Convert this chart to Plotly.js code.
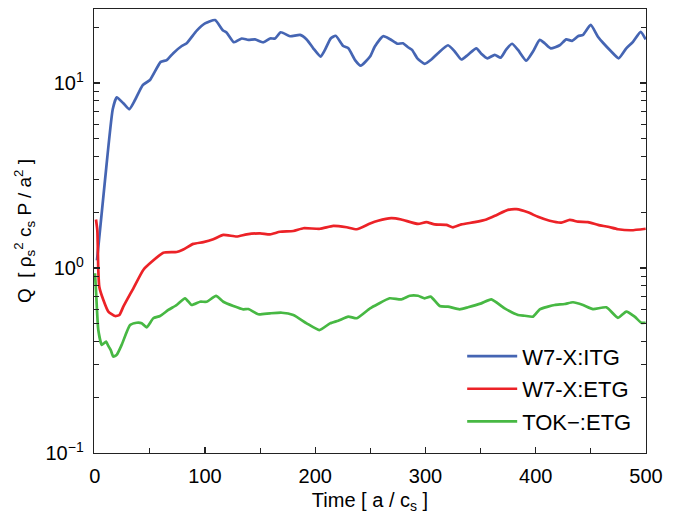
<!DOCTYPE html>
<html>
<head>
<meta charset="utf-8">
<script src="https://cdn.plot.ly/plotly-3.0.1.min.js"></script>
<style>html,body{margin:0;padding:0;background:#fff;}#chart{width:678px;height:514px;}</style>
</head>
<body>
<div id="chart"></div>
<script>
// W7-X:ITG
const itgTime = [2,9.3,16.3,19.9,25.9,31.3,36.5,43.5,50.1,59.8,65.3,71.2,78.9,83.4,92.5,100,109.1,116.1,119.7,126.3,133.3,139.3,145.4,152.9,159,163.5,168.7,177.1,186.2,192.2,198.2,204.9,208.8,214,218.5,225.4,230,236.1,241.2,249.7,253.9,261.5,267.5,274.4,279.6,284.1,287.8,292.6,299.3,305.3,311.3,320.4,326.5,332.5,338.5,346.1,350.6,356.1,362.8,368.2,373.3,378.5,383.9,391.4,397.5,403.6,408.1,413.6,421.7,427.7,432.9,438.3,442.9,449.8,456.4,461,468.5,475.2,482.1,488.2,495.2,499.7];
const itgQ = [1.10,2.99,7.21,8.37,7.77,7.21,8.09,9.75,10.38,13.0,13.3,14.5,15.85,16.4,19.2,21.0,21.9,19.3,18.7,16.6,17.4,17.1,17.2,16.6,17.4,17.4,18.8,17.9,18.2,17.2,15.4,13.9,15.1,17.4,18.0,15.85,15.4,13.3,12.4,13.9,15.7,17.9,17.3,16.3,16.4,15.6,15.1,13.6,12.7,13.4,14.5,16.0,14.8,13.4,14.2,15.4,14.4,13.6,14.2,13.7,15.2,16.3,15.1,13.2,14.8,17.1,16.4,15.4,16.0,17.2,16.9,17.9,18.2,20.6,17.8,16.5,14.8,13.6,15.4,16.7,18.9,17.2];

// W7-X:ETG
const etgTime = [1.1,2.3,3.2,4.1,7.8,12.3,18.4,22.3,25.9,35,44,51.6,62.2,74.3,80.3,89.4,98.5,107.5,116.6,128.7,137.8,149.9,159,168,180.1,189.2,204.3,216.4,228.5,237.6,249.7,256.9,269,278,293.2,300.7,308.3,318.9,324.9,332.5,344.6,355.2,364.2,374.8,382.4,392.9,402,412.6,423.2,430.8,438.3,447.4,456.5,465.5,474.6,486.7,499.7];
const etgQ = [1.83,1.60,0.976,0.792,0.671,0.581,0.550,0.557,0.618,0.777,0.976,1.08,1.21,1.22,1.26,1.35,1.38,1.43,1.51,1.48,1.52,1.54,1.52,1.57,1.585,1.64,1.63,1.69,1.66,1.62,1.74,1.80,1.86,1.83,1.73,1.77,1.72,1.71,1.66,1.72,1.77,1.83,1.93,2.06,2.08,2.0,1.89,1.80,1.76,1.82,1.78,1.77,1.71,1.67,1.62,1.60,1.63];

// TOK-:ETG
const tokTime = [0.2,1.1,3.2,6.3,8.4,10.2,12.3,14.5,16.8,19.9,24.4,32,38,42.6,47.1,53.1,59.2,66.7,74.3,81.9,87.9,95.5,101.5,110,116.6,125.7,134.7,139.3,148.3,159,169.6,180.1,192.2,203.7,213.4,220.9,230,237.6,249.7,256.9,267.5,278,285.7,293.2,299.3,304.7,312.9,320.4,331,338.5,350.6,359.7,371.8,383.9,390,397.5,403.6,411.1,417.2,426.3,433.8,442.9,451.9,464,474.6,482.1,489.7,495.7,499.7];
const tokQ = [0.936,0.76,0.462,0.384,0.392,0.40,0.379,0.360,0.332,0.339,0.384,0.492,0.506,0.503,0.478,0.535,0.55,0.593,0.631,0.686,0.631,0.657,0.657,0.706,0.657,0.623,0.598,0.60,0.562,0.569,0.573,0.557,0.502,0.462,0.502,0.519,0.546,0.535,0.605,0.639,0.686,0.677,0.708,0.708,0.686,0.70,0.623,0.618,0.598,0.613,0.644,0.677,0.605,0.557,0.552,0.546,0.598,0.618,0.631,0.639,0.653,0.631,0.60,0.613,0.538,0.581,0.546,0.506,0.506];

const seriesNames = ['W7-X:ITG','W7-X:ETG','TOK\u2212:ETG'];
const xTickVals = [0,100,200,300,400,500];
const yTickVals = [0.1,1,10];
const yTickText = ['10<sup>\u22121</sup>','10<sup>0</sup>','10<sup>1</sup>'];

const FONT = 'Liberation Sans, Arial, Helvetica, sans-serif';
const AX = '#222222';
const TXT = '#000000';

function tr(x, y, name, color, grp) {
  return {x: x, y: y, name: name, type: 'scatter', mode: 'lines', legendgroup: grp,
          line: {color: color, width: 2.7, shape: 'spline', smoothing: 0.5}};
}

const data = [
  tr(itgTime, itgQ, seriesNames[0], '#4565b3', 'a'),
  tr(etgTime, etgQ, seriesNames[1], '#ec2227', 'b'),
  tr(tokTime, tokQ, seriesNames[2], '#47b843', 'c')
];

const layout = {
  width: 678, height: 514,
  margin: {l: 94, r: 32, t: 9, b: 61},
  paper_bgcolor: '#ffffff', plot_bgcolor: '#ffffff',
  font: {family: FONT, size: 20, color: TXT},
  showlegend: true,
  legend: {x: 0.667, y: 0.265, xanchor: 'left', yanchor: 'top', bgcolor: 'rgba(0,0,0,0)',
           borderwidth: 0, itemwidth: 50, font: {family: FONT, size: 22, color: TXT},
           tracegroupgap: 1},
  xaxis: {
    range: [-0.7, 500], showgrid: false, zeroline: false,
    showline: true, linecolor: AX, linewidth: 1.3, mirror: true,
    tickmode: 'array', tickvals: xTickVals,
    ticks: 'inside', ticklen: 6, tickwidth: 1.2, tickcolor: AX,
    ticklabelstandoff: 5,
    minor: {dtick: 50, ticks: 'inside', ticklen: 5, tickwidth: 1, tickcolor: AX, showgrid: false},
    tickfont: {family: FONT, size: 20, color: TXT},
    title: {text: 'Time [ a / c<sub>s</sub> ]', font: {family: FONT, size: 20, color: TXT}, standoff: 6}
  },
  yaxis: {
    type: 'log', range: [-1, 1.4], showgrid: false, zeroline: false,
    showline: true, linecolor: AX, linewidth: 1.3, mirror: 'ticks',
    tickmode: 'array', tickvals: yTickVals, ticktext: yTickText,
    ticks: 'inside', ticklen: 6, tickwidth: 1.2, tickcolor: AX,
    ticklabelstandoff: 5,
    minor: {dtick: 'D1', ticks: 'inside', ticklen: 5, tickwidth: 1, tickcolor: AX, showgrid: false},
    tickfont: {family: FONT, size: 20, color: TXT},
    title: {text: 'Q  [ \u03C1<sub>s</sub><sup>2</sup> c<sub>s</sub> P / a<sup>2</sup> ]\u00a0\u00a0', font: {family: FONT, size: 19, color: TXT}, standoff: 8}
  }
};

Plotly.newPlot('chart', data, layout, {displayModeBar: false, staticPlot: true});
</script>
</body>
</html>
